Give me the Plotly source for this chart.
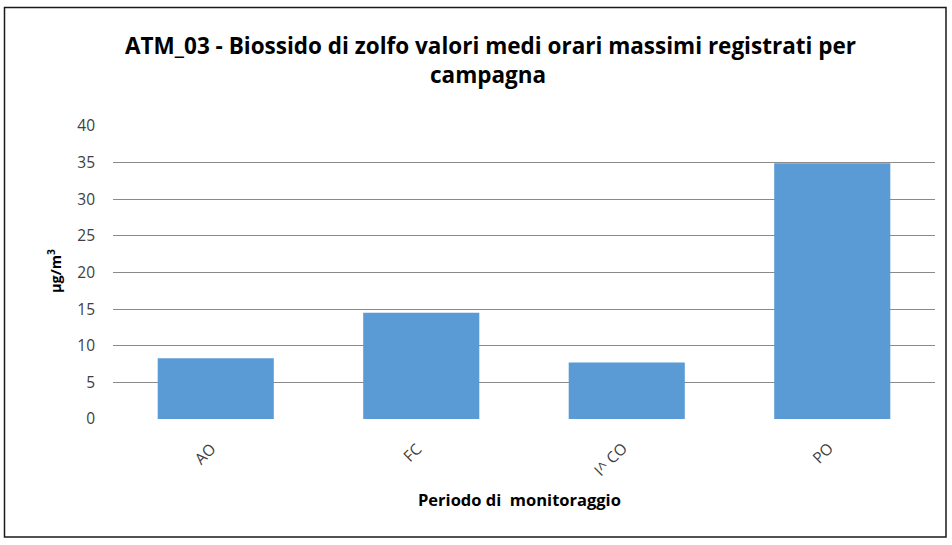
import plotly.graph_objects as go

categories = ["AO", "FC", "I^ CO", "PO"]
values = [8.3, 14.5, 7.7, 34.9]
y_ticks = [0, 5, 10, 15, 20, 25, 30, 35, 40]

W, H = 952, 545
L, R, T, B = 113, 935, 126, 419

def px_x(px):
    return (px - L) / (R - L)

def px_y(py):
    return (B - py) / (B - T)

FONT = "'Open Sans', Lato, sans-serif"

fig = go.Figure()
fig.add_trace(go.Bar(
    x=categories, y=values,
    marker=dict(color="#5b9bd5", line=dict(width=0)),
    width=0.565,
))

fig.update_layout(
    width=W, height=H,
    margin=dict(l=L, r=W - R, t=T, b=H - B),
    paper_bgcolor="white", plot_bgcolor="white",
    showlegend=False,
    font=dict(family=FONT, color="#404040", size=15),
    bargap=0.435,
)
fig.update_xaxes(
    showgrid=False, showticklabels=False, zeroline=False,
    showline=False, ticks="",
)
fig.update_yaxes(
    range=[0, 40], tickvals=y_ticks, ticktext=[str(v) for v in y_ticks],
    showgrid=True, gridcolor="#8a8a8a", gridwidth=1.4,
    zeroline=False, showline=False, ticks="",
    tickfont=dict(family=FONT, size=15.5, color="#404040"),
    ticklabelstandoff=17,
)

# Chart border
fig.add_shape(type="rect", xref="paper", yref="paper",
              x0=px_x(4.5), x1=px_x(946), y0=px_y(537), y1=px_y(7.5),
              line=dict(color="#1a1a1a", width=1.5), fillcolor="rgba(0,0,0,0)",
              layer="below")

# Title
TITLE_FONT = dict(family=FONT, size=22.5, color="#000000", weight=700)
fig.add_annotation(xref="paper", yref="paper", x=px_x(490), y=px_y(45),
                   text="ATM_03 - Biossido di zolfo valori medi orari massimi registrati per",
                   showarrow=False, xanchor="center", yanchor="middle",
                   font=TITLE_FONT)
fig.add_annotation(xref="paper", yref="paper", x=px_x(488), y=px_y(74),
                   text="campagna",
                   showarrow=False, xanchor="center", yanchor="middle",
                   font=TITLE_FONT)

# X tick labels (rotated)
for c in categories:
    fig.add_annotation(xref="x", yref="paper", x=c, y=px_y(435),
                       text=c, textangle=-45,
                       showarrow=False, xanchor="right", yanchor="top",
                       xshift=8,
                       font=dict(family=FONT, size=15.5, color="#404040"))

# Axis titles
fig.add_annotation(xref="paper", yref="paper", x=px_x(519), y=px_y(500),
                   text="Periodo di  monitoraggio",
                   showarrow=False, xanchor="center", yanchor="middle",
                   font=dict(family=FONT, size=16.5, color="#000000", weight=700))
fig.add_annotation(xref="paper", yref="paper", x=px_x(54), y=px_y(271),
                   text="µg/m<sup>3</sup>", textangle=-90,
                   showarrow=False, xanchor="center", yanchor="middle",
                   font=dict(family=FONT, size=14.5, color="#000000", weight=700))

fig.write_html("out.html", config={"displayModeBar": False},
               post_script="document.body.style.margin='0px';document.body.style.overflow='hidden';")
